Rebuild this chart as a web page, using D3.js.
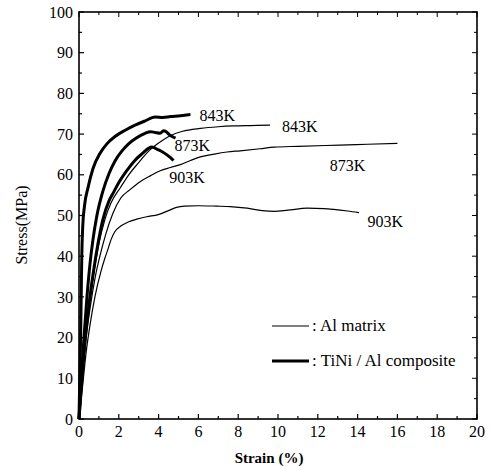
<!DOCTYPE html>
<html>
<head>
<meta charset="utf-8">
<script src="https://cdn.jsdelivr.net/npm/d3@7"></script>
<style>
  body { margin: 0; background: #fff; }
</style>
</head>
<body>
<div id="vis"></div>
<script>
// stress-strain curves, [strain %, stress MPa]
const comp843 = [[0,0],[0.04,10],[0.08,20],[0.11,30],[0.14,40],[0.19,47.5],[0.28,52.5],[0.45,56.8],[0.7,61.5],[1.06,65.3],[1.4,67.6],[1.81,69.4],[2.3,70.9],[2.82,72.2],[3.3,73.2],[3.83,74.2],[4.2,74.1],[4.6,74.3],[5.1,74.5],[5.6,74.8]]
const comp873 = [[0,0],[0.12,10],[0.25,20],[0.4,30],[0.55,38],[0.7,44],[0.9,50],[1.2,56],[1.5,60.2],[1.81,63.4],[2.15,65.8],[2.49,67.6],[2.9,69.1],[3.32,70.2],[3.6,70.6],[3.83,70.4],[4.08,70.2],[4.25,70.8],[4.4,70.5],[4.55,69.8],[4.85,69.0]]
const comp903 = [[0,0],[0.15,10],[0.32,20],[0.5,28],[0.72,36],[0.95,43],[1.2,49],[1.5,53.5],[1.75,55.8],[1.98,57.9],[2.4,61],[2.82,63.6],[3.2,65.3],[3.49,66.5],[3.66,66.8],[4.0,66.1],[4.2,65.6],[4.42,64.9],[4.6,64.2],[4.75,63.5]]
const matrix843 = [[0,0],[0.15,10],[0.33,20],[0.52,28],[0.75,36],[1.0,43],[1.3,49],[1.6,53],[2.1,57],[2.5,60],[3.0,63],[3.5,65.8],[4.0,67.8],[4.58,69.6],[5.2,70.7],[6.1,71.4],[7.0,71.8],[7.76,72.0],[8.6,72.1],[9.6,72.2]]
const matrix873 = [[0,0],[0.16,10],[0.36,20],[0.58,28],[0.82,35],[1.1,41],[1.35,45.5],[1.7,50.5],[2.1,54.3],[2.55,56.3],[3.07,58.3],[3.6,59.8],[4.08,61],[4.6,61.8],[5.09,62.5],[5.6,63.5],[6.1,64.4],[6.8,65.1],[7.44,65.6],[8.1,65.9],[9.1,66.4],[9.8,66.8],[11,67.0],[13.1,67.3],[14.5,67.5],[16.0,67.7]]
const matrix903 = [[0,0],[0.18,8],[0.35,16],[0.55,23],[0.8,30],[1.12,36.6],[1.3,39.5],[1.46,41.8],[1.62,44.2],[1.8,46],[2.1,47.4],[2.47,48.4],[2.9,49.1],[3.4,49.7],[3.98,50.2],[4.5,51.2],[4.9,52],[5.3,52.3],[6.0,52.4],[6.93,52.3],[7.6,52.2],[8.45,51.8],[9.2,51.2],[9.8,51.0],[10.5,51.3],[11.47,51.8],[12.3,51.7],[12.8,51.5],[13.5,51.1],[14.07,50.7]]

// curve labels, [strain, stress, text]
const labels = [[6.05,73.2,"843K"],[10.2,70.5,"843K"],[4.8,65.8,"873K"],[4.53,58.0,"903K"],[12.6,60.9,"873K"],[14.5,47.2,"903K"]]

const xTicks = [0,2,4,6,8,10,12,14,16,18,20]
const yTicks = [0,10,20,30,40,50,60,70,80,90,100]
const legendNames = [": Al matrix", ": TiNi / Al composite"]

const margin = {left: 79, top: 12, right: 15, bottom: 47}
const W = 492, H = 466
const width = W - margin.left - margin.right
const height = H - margin.top - margin.bottom
const serif = "'Liberation Serif', 'DejaVu Serif', serif"

const svg = d3.select("#vis").append("svg")
  .attr("width", W)
  .attr("height", H)
  .attr("font-family", serif)

const g = svg.append("g").attr("transform", `translate(${margin.left},${margin.top})`)

const x = d3.scaleLinear().domain([0, 20]).range([0, width])
const y = d3.scaleLinear().domain([0, 100]).range([height, 0])

// frame
g.append("rect")
  .attr("width", width).attr("height", height)
  .attr("fill", "none").attr("stroke", "#000").attr("stroke-width", 1.6)

// inward ticks on all four sides
const xMinor = d3.range(0, 21, 1)
const yMinor = d3.range(0, 101, 5)
function tickLen(v, major) { return v % major === 0 ? 5 : 3 }

g.selectAll(".xt").data(xMinor).enter().append("line")
  .attr("x1", d => x(d)).attr("x2", d => x(d))
  .attr("y1", height).attr("y2", d => height - tickLen(d, 2))
  .attr("stroke", "#000").attr("stroke-width", 1.2)
g.selectAll(".xtt").data(xMinor).enter().append("line")
  .attr("x1", d => x(d)).attr("x2", d => x(d))
  .attr("y1", 0).attr("y2", d => tickLen(d, 2))
  .attr("stroke", "#000").attr("stroke-width", 1)
g.selectAll(".yt").data(yMinor).enter().append("line")
  .attr("y1", d => y(d)).attr("y2", d => y(d))
  .attr("x1", 0).attr("x2", d => tickLen(d, 10))
  .attr("stroke", "#000").attr("stroke-width", 1.2)
g.selectAll(".ytr").data(yMinor).enter().append("line")
  .attr("y1", d => y(d)).attr("y2", d => y(d))
  .attr("x1", width).attr("x2", d => width - tickLen(d, 10))
  .attr("stroke", "#000").attr("stroke-width", 1)

// tick labels
g.selectAll(".xl").data(xTicks).enter().append("text")
  .attr("x", d => x(d)).attr("y", height + 18)
  .attr("text-anchor", "middle").attr("font-size", 16)
  .text(d => d)
g.selectAll(".yl").data(yTicks).enter().append("text")
  .attr("x", -6).attr("y", d => y(d)).attr("dy", "0.35em")
  .attr("text-anchor", "end").attr("font-size", 16)
  .text(d => d)

// axis titles
svg.append("text")
  .attr("x", 269).attr("y", 463)
  .attr("text-anchor", "middle").attr("font-size", 15).attr("font-weight", "bold")
  .text("Strain (%)")
svg.append("text")
  .attr("transform", "translate(27,225) rotate(-90)")
  .attr("text-anchor", "middle").attr("font-size", 16)
  .text("Stress(MPa)")

// curves
const line = d3.line()
  .x(d => x(d[0]))
  .y(d => y(d[1]))
  .curve(d3.curveMonotoneX)

const thin = [matrix843, matrix873, matrix903]
const thick = [comp843, comp873, comp903]

g.selectAll(".thin").data(thin).enter().append("path")
  .attr("d", line)
  .attr("fill", "none").attr("stroke", "#000").attr("stroke-width", 1.2)
g.selectAll(".thick").data(thick).enter().append("path")
  .attr("d", line)
  .attr("fill", "none").attr("stroke", "#000").attr("stroke-width", 3)
  .attr("stroke-linejoin", "round")

g.selectAll(".lab").data(labels).enter().append("text")
  .attr("x", d => x(d[0])).attr("y", d => y(d[1]))
  .attr("font-size", 16)
  .text(d => d[2])

// legend
const legend = svg.append("g").attr("transform", "translate(272,326)")
legend.selectAll("line").data(legendNames).enter().append("line")
  .attr("x1", 0).attr("x2", 37)
  .attr("y1", (d, i) => i * 35).attr("y2", (d, i) => i * 35)
  .attr("stroke", "#000").attr("stroke-width", (d, i) => i === 0 ? 1.2 : 3)
legend.selectAll("text").data(legendNames).enter().append("text")
  .attr("x", 40).attr("y", (d, i) => i * 35 + 5)
  .attr("font-size", 17)
  .text(d => d)
</script>
</body>
</html>
